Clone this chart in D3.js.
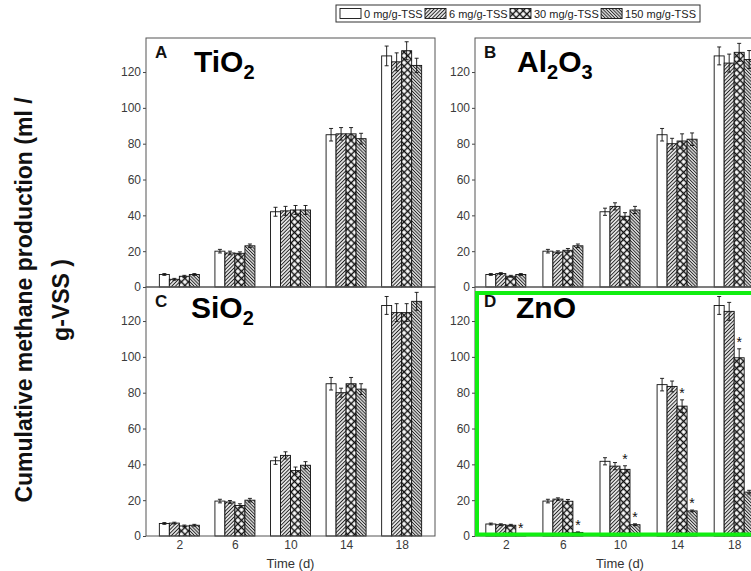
<!DOCTYPE html>
<html>
<head>
<meta charset="utf-8">
<script src="https://cdn.jsdelivr.net/npm/d3@7"></script>
<style>
  body { margin: 0; background: #fff; }
  svg { display: block; font-family: "Liberation Sans", Arial, sans-serif; }
</style>
</head>
<body>
<svg id="chart" width="751" height="571"></svg>
<script>
// ---- data ----
const days = ["2", "6", "10", "14", "18"];
const doses = ["0 mg/g-TSS", "6 mg/g-TSS", "30 mg/g-TSS", "150 mg/g-TSS"];
const yTicks = [0, 20, 40, 60, 80, 100, 120];

// one row per dose, one value per day
const tio2 = [
  [7, 20, 42, 85, 129],
  [4.3, 19, 42.5, 85.5, 125.7],
  [6, 18.8, 43, 85.5, 131.9],
  [7, 23, 43, 82.8, 123.7]
];
const tio2Err = [
  [0.5, 1, 2.5, 3.5, 5.5],
  [0.5, 1, 2.5, 3.5, 5],
  [0.5, 0.8, 2.5, 3.5, 5],
  [0.5, 1, 2.5, 3, 4]
];

const al2o3 = [
  [7, 20, 42, 85, 129],
  [7.5, 19.5, 45, 80, 125],
  [6, 20.5, 39.5, 81.5, 131],
  [7, 23, 43, 82.5, 127]
];
const al2o3Err = [
  [0.5, 1, 2, 3.5, 5],
  [0.5, 0.7, 2, 3, 5],
  [0.5, 1, 2, 4, 5],
  [0.5, 1, 2, 3.5, 5]
];

const sio2 = [
  [7, 19.5, 42, 85, 128.7],
  [7.2, 19, 45, 80, 124.7],
  [5.6, 17, 36.5, 85, 124.7],
  [6, 20, 39.5, 82, 131]
];
const sio2Err = [
  [0.5, 1, 2, 3.5, 5],
  [0.5, 0.8, 2, 2.5, 5],
  [0.5, 1, 2, 3.5, 5],
  [0.5, 1, 2, 3, 5]
];

const zno = [
  [6.7, 19.5, 41.7, 84.5, 128.7],
  [6.3, 20.6, 39, 83.5, 125.4],
  [6, 19.4, 37.2, 72.5, 99.5],
  [0.3, 2, 6.3, 14, 24.5]
];
const znoErr = [
  [0.5, 1, 2, 3.5, 5],
  [0.5, 0.7, 2, 3, 5],
  [0.5, 1, 2, 3.5, 5],
  [0, 0.3, 0.5, 0.5, 1]
];
// [day index, dose index] of the bars marked with *
const znoStars = [[0, 3], [1, 3], [2, 2], [2, 3], [3, 2], [3, 3], [4, 2]];

// ---- layout ----
const PH = 249;
const panels = [
  { key: "A", chem: [["TiO", 0], ["2", 1]], vals: tio2, err: tio2Err, left: 146, top: 38, w: 289, pad: 0.6, xlab: false, dx: 48, by: 34 },
  { key: "B", chem: [["Al", 0], ["2", 1], ["O", 0], ["3", 1]], vals: al2o3, err: al2o3Err, left: 475, top: 38, w: 290, pad: 0.54, xlab: false, dx: 42, by: 34 },
  { key: "C", chem: [["SiO", 0], ["2", 1]], vals: sio2, err: sio2Err, left: 146, top: 287, w: 289, pad: 0.6, xlab: true, dx: 45, by: 31 },
  { key: "D", chem: [["ZnO", 0]], vals: zno, err: znoErr, left: 475, top: 287, w: 290, pad: 0.54, xlab: true, dx: 41, by: 31, stars: znoStars }
];
const fills = ["#fff", "url(#p6)", "url(#p30)", "url(#p150)"];

const svg = d3.select("#chart");

// ---- fill patterns ----
const defs = svg.append("defs");
function hatch(id, step, angle, sw) {
  const p = defs.append("pattern").attr("id", id)
    .attr("patternUnits", "userSpaceOnUse")
    .attr("width", step).attr("height", step)
    .attr("patternTransform", `rotate(${angle})`);
  p.append("rect").attr("width", step).attr("height", step).attr("fill", "#fff");
  p.append("line").attr("x1", step / 2).attr("x2", step / 2).attr("y1", 0).attr("y2", step)
    .attr("stroke", "#222").attr("stroke-width", sw);
}
hatch("p6", 2.6, 45, 1.1);
hatch("p150", 2.3, -45, 1.1);
const cross = defs.append("pattern").attr("id", "p30")
  .attr("patternUnits", "userSpaceOnUse")
  .attr("width", 5).attr("height", 5)
  .attr("patternTransform", "rotate(45)");
cross.append("rect").attr("width", 5).attr("height", 5).attr("fill", "#fff");
cross.append("path").attr("d", "M0,2.5H5M2.5,0V5")
  .attr("stroke", "#111").attr("stroke-width", 1.4);

const y = d3.scaleLinear().domain([0, 139]).range([PH, 0]);
const xi = d3.scaleBand().domain(d3.range(doses.length)).range([-20, 20]);

panels.forEach(p => {
  const g = svg.append("g").attr("transform", `translate(${p.left},${p.top})`);
  const x = d3.scalePoint().domain(days).range([0, p.w]).padding(p.pad);

  // bars
  p.vals.forEach((row, i) => {
    g.selectAll(null)
      .data(row)
      .enter().append("rect")
      .attr("x", (d, j) => x(days[j]) + xi(i))
      .attr("width", xi.bandwidth())
      .attr("y", d => y(d))
      .attr("height", d => PH - y(d))
      .attr("fill", fills[i])
      .attr("stroke", "#111")
      .attr("stroke-width", 0.9);
  });

  // error bars
  p.vals.forEach((row, i) => {
    row.forEach((v, j) => {
      const e = p.err[i][j];
      if (!e) return;
      const cx = x(days[j]) + xi(i) + xi.bandwidth() / 2;
      g.append("path")
        .attr("d", `M${cx},${y(v - e)}V${y(v + e)}M${cx - 2},${y(v - e)}H${cx + 2}M${cx - 2},${y(v + e)}H${cx + 2}`)
        .attr("stroke", "#111").attr("stroke-width", 0.9).attr("fill", "none");
    });
  });

  // significance marks
  (p.stars || []).forEach(([j, i]) => {
    const v = p.vals[i][j] + p.err[i][j];
    g.append("text")
      .attr("x", x(days[j]) + xi(i) + xi.bandwidth() / 2)
      .attr("y", y(v) - 2)
      .attr("text-anchor", "middle")
      .attr("font-size", 14)
      .attr("fill", "#111")
      .text("*");
  });

  // y axis
  const ya = g.append("g").call(d3.axisLeft(y).tickValues(yTicks).tickSize(3).tickPadding(2));
  ya.select(".domain").remove();
  ya.selectAll("line").attr("stroke", "#444");
  ya.selectAll("text").attr("font-size", 12).attr("fill", "#3a3a3a").attr("font-family", null);

  // x axis labels on the bottom row
  if (p.xlab) {
    const xa = g.append("g").attr("transform", `translate(0,${PH})`)
      .call(d3.axisBottom(x).tickSize(0).tickPadding(4));
    xa.select(".domain").remove();
    xa.selectAll("text").attr("font-size", 12).attr("fill", "#3a3a3a").attr("font-family", null);
    g.append("text")
      .attr("x", p.w / 2).attr("y", PH + 32)
      .attr("text-anchor", "middle")
      .attr("font-size", 13).attr("fill", "#333")
      .text("Time (d)");
  }

  // frame
  g.append("rect").attr("width", p.w).attr("height", PH)
    .attr("fill", "none").attr("stroke", "#555").attr("stroke-width", 1);

  // panel letter and formula
  g.append("text").attr("x", 9).attr("y", 20)
    .attr("font-size", 17).attr("font-weight", "bold").attr("fill", "#111")
    .text(p.key);
  const t = g.append("text").attr("x", p.dx).attr("y", p.by)
    .attr("font-weight", "bold").attr("fill", "#000");
  let low = false;
  p.chem.forEach(([s, sub]) => {
    const ts = t.append("tspan").text(s).attr("font-size", sub ? 20 : 30);
    if (sub && !low) { ts.attr("dy", 7); low = true; }
    else if (!sub && low) { ts.attr("dy", -7); low = false; }
  });
});

// highlight around panel D
svg.append("rect")
  .attr("x", 477).attr("y", 293).attr("width", 300).attr("height", 241.5)
  .attr("fill", "none").attr("stroke", "#11ee11").attr("stroke-width", 4);

// shared y title
const ytitle = ["Cumulative methane production (ml /", "g-VSS )"];
svg.selectAll(".ytitle")
  .data(ytitle)
  .enter().append("text")
  .attr("class", "ytitle")
  .attr("transform", (d, i) => `translate(${24 + i * 37},300) rotate(-90)`)
  .attr("text-anchor", "middle")
  .attr("dominant-baseline", "central")
  .attr("font-size", 23).attr("font-weight", "bold").attr("fill", "#111")
  .text(d => d);

// legend
const leg = svg.append("g");
const legLeft = 336, legRight = 700, sw = 21;
const items = doses.map((d, i) => {
  const r = leg.append("rect").attr("y", 8.5).attr("width", sw).attr("height", 10)
    .attr("fill", fills[i]).attr("stroke", "#111").attr("stroke-width", 0.9);
  const tx = leg.append("text").attr("y", 17.5)
    .attr("font-size", 11).attr("fill", "#222").text(d);
  return { r, tx, len: tx.node().getComputedTextLength() };
});
const used = d3.sum(items, it => sw + 3 + it.len);
const gap = (legRight - legLeft - 8 - used) / (items.length - 1);
let lx = legLeft + 4;
items.forEach(it => {
  it.r.attr("x", lx);
  it.tx.attr("x", lx + sw + 3);
  lx += sw + 3 + it.len + gap;
});
leg.insert("rect", ":first-child")
  .attr("x", legLeft).attr("y", 5).attr("width", legRight - legLeft).attr("height", 17)
  .attr("fill", "#fff").attr("stroke", "#333").attr("stroke-width", 1);
</script>
</body>
</html>
